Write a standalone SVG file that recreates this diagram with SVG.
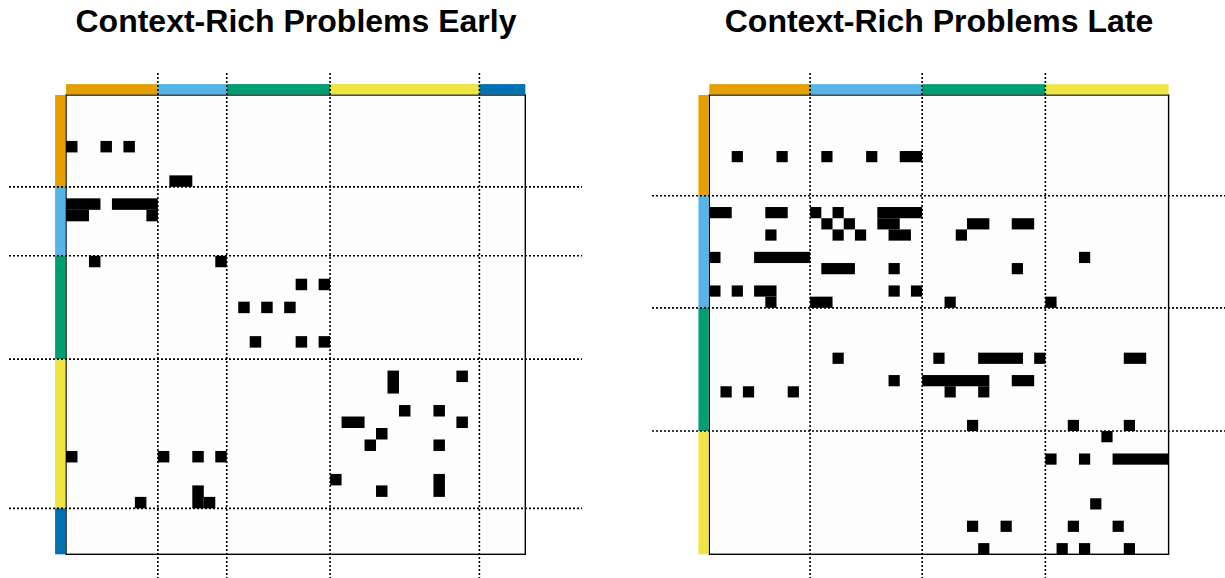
<svg xmlns="http://www.w3.org/2000/svg" width="1225" height="578" viewBox="0 0 1225 578">
<style>
.t{font-family:"Liberation Sans",Arial,sans-serif;font-weight:bold;font-size:32px;fill:#000;text-anchor:middle}
.c{fill:#000}
.d{stroke:#000;stroke-width:1.6;stroke-dasharray:2 2;fill:none}
.b{fill:#fdfdfd;stroke:#000;stroke-width:1.4}
</style>
<rect width="1225" height="578" fill="#fff"/>
<g id="title-early"><text class="t" x="296" y="32">Context-Rich Problems Early</text></g>
<g id="title-late"><text class="t" x="939" y="32">Context-Rich Problems Late</text></g>

<g id="panel-early">
<rect class="b" x="66" y="95" width="459.3" height="459.3"/>
<g id="bars-early" transform="translate(66,95) scale(11.4825)">
<rect x="0" y="-0.95" width="8" height="0.9" fill="#E69F00"/>
<rect x="8" y="-0.95" width="6" height="0.9" fill="#56B4E9"/>
<rect x="14" y="-0.95" width="9" height="0.9" fill="#009E73"/>
<rect x="23" y="-0.95" width="13" height="0.9" fill="#F0E442"/>
<rect x="36" y="-0.95" width="4" height="0.9" fill="#0072B2"/>
<rect y="0" x="-0.95" height="8" width="0.9" fill="#E69F00"/>
<rect y="8" x="-0.95" height="6" width="0.9" fill="#56B4E9"/>
<rect y="14" x="-0.95" height="9" width="0.9" fill="#009E73"/>
<rect y="23" x="-0.95" height="13" width="0.9" fill="#F0E442"/>
<rect y="36" x="-0.95" height="4" width="0.9" fill="#0072B2"/>
</g>
<g id="cells-early" class="c" transform="translate(66,95) scale(11.4825)">
<rect x="0" y="4" width="1" height="1"/><rect x="3" y="4" width="1" height="1"/><rect x="5" y="4" width="1" height="1"/>
<rect x="9" y="7" width="2" height="1"/>
<rect x="0" y="9" width="3" height="1"/><rect x="4" y="9" width="4" height="1"/>
<rect x="0" y="10" width="2" height="1"/><rect x="7" y="10" width="1" height="1"/>
<rect x="2" y="14" width="1" height="1"/><rect x="13" y="14" width="1" height="1"/>
<rect x="20" y="16" width="1" height="1"/><rect x="22" y="16" width="1" height="1"/>
<rect x="15" y="18" width="1" height="1"/><rect x="17" y="18" width="1" height="1"/><rect x="19" y="18" width="1" height="1"/>
<rect x="16" y="21" width="1" height="1"/><rect x="20" y="21" width="1" height="1"/><rect x="22" y="21" width="1" height="1"/>
<rect x="28" y="24" width="1" height="2"/><rect x="34" y="24" width="1" height="1"/>
<rect x="29" y="27" width="1" height="1"/><rect x="32" y="27" width="1" height="1"/>
<rect x="24" y="28" width="2" height="1"/><rect x="34" y="28" width="1" height="1"/>
<rect x="27" y="29" width="1" height="1"/>
<rect x="26" y="30" width="1" height="1"/><rect x="32" y="30" width="1" height="1"/>
<rect x="0" y="31" width="1" height="1"/><rect x="8" y="31" width="1" height="1"/><rect x="11" y="31" width="1" height="1"/><rect x="13" y="31" width="1" height="1"/>
<rect x="23" y="33" width="1" height="1"/><rect x="32" y="33" width="1" height="2"/>
<rect x="11" y="34" width="1" height="2"/><rect x="27" y="34" width="1" height="1"/>
<rect x="6" y="35" width="1" height="1"/><rect x="12" y="35" width="1" height="1"/>
</g>
</g>

<g id="panel-late">
<rect class="b" x="709.3" y="95" width="459.3" height="459.3"/>
<g id="bars-late" transform="translate(709.3,95) scale(11.2024)">
<rect x="0" y="-0.97" width="9" height="0.92" fill="#E69F00"/>
<rect x="9" y="-0.97" width="10" height="0.92" fill="#56B4E9"/>
<rect x="19" y="-0.97" width="11" height="0.92" fill="#009E73"/>
<rect x="30" y="-0.97" width="11" height="0.92" fill="#F0E442"/>
<rect y="0" x="-0.97" height="9" width="0.92" fill="#E69F00"/>
<rect y="9" x="-0.97" height="10" width="0.92" fill="#56B4E9"/>
<rect y="19" x="-0.97" height="11" width="0.92" fill="#009E73"/>
<rect y="30" x="-0.97" height="11" width="0.92" fill="#F0E442"/>
</g>
<g id="cells-late" class="c" transform="translate(709.3,95) scale(11.2024)">
<rect x="2" y="5" width="1" height="1"/><rect x="6" y="5" width="1" height="1"/><rect x="10" y="5" width="1" height="1"/><rect x="14" y="5" width="1" height="1"/><rect x="17" y="5" width="2" height="1"/>
<rect x="0" y="10" width="2" height="1"/><rect x="5" y="10" width="2" height="1"/><rect x="9" y="10" width="1" height="1"/><rect x="11" y="10" width="1" height="1"/><rect x="15" y="10" width="4" height="1"/>
<rect x="10" y="11" width="1" height="1"/><rect x="12" y="11" width="1" height="1"/><rect x="15" y="11" width="2" height="1"/><rect x="23" y="11" width="2" height="1"/><rect x="27" y="11" width="2" height="1"/>
<rect x="5" y="12" width="1" height="1"/><rect x="11" y="12" width="1" height="1"/><rect x="13" y="12" width="1" height="1"/><rect x="16" y="12" width="2" height="1"/><rect x="22" y="12" width="1" height="1"/>
<rect x="0" y="14" width="1" height="1"/><rect x="4" y="14" width="5" height="1"/><rect x="33" y="14" width="1" height="1"/>
<rect x="10" y="15" width="3" height="1"/><rect x="16" y="15" width="1" height="1"/><rect x="27" y="15" width="1" height="1"/>
<rect x="0" y="17" width="1" height="1"/><rect x="2" y="17" width="1" height="1"/><rect x="4" y="17" width="2" height="1"/><rect x="16" y="17" width="1" height="1"/><rect x="18" y="17" width="1" height="1"/>
<rect x="5" y="18" width="1" height="1"/><rect x="9" y="18" width="2" height="1"/><rect x="21" y="18" width="1" height="1"/><rect x="30" y="18" width="1" height="1"/>
<rect x="11" y="23" width="1" height="1"/><rect x="20" y="23" width="1" height="1"/><rect x="24" y="23" width="4" height="1"/><rect x="29" y="23" width="1" height="1"/><rect x="37" y="23" width="2" height="1"/>
<rect x="16" y="25" width="1" height="1"/><rect x="19" y="25" width="6" height="1"/><rect x="27" y="25" width="2" height="1"/>
<rect x="1" y="26" width="1" height="1"/><rect x="3" y="26" width="1" height="1"/><rect x="7" y="26" width="1" height="1"/><rect x="21" y="26" width="1" height="1"/><rect x="24" y="26" width="1" height="1"/>
<rect x="23" y="29" width="1" height="1"/><rect x="32" y="29" width="1" height="1"/><rect x="37" y="29" width="1" height="1"/>
<rect x="35" y="30" width="1" height="1"/>
<rect x="30" y="32" width="1" height="1"/><rect x="33" y="32" width="1" height="1"/><rect x="36" y="32" width="5" height="1"/>
<rect x="34" y="36" width="1" height="1"/>
<rect x="23" y="38" width="1" height="1"/><rect x="26" y="38" width="1" height="1"/><rect x="32" y="38" width="1" height="1"/><rect x="36" y="38" width="1" height="1"/>
<rect x="24" y="40" width="1" height="1"/><rect x="31" y="40" width="1" height="1"/><rect x="33" y="40" width="1" height="1"/><rect x="37" y="40" width="1" height="1"/>
</g>
</g>

<g id="connectors">
<g id="dividers-early" class="d">
<line x1="157.86" y1="73" x2="157.86" y2="578"/>
<line x1="226.76" y1="73" x2="226.76" y2="578"/>
<line x1="330.10" y1="73" x2="330.10" y2="578"/>
<line x1="479.37" y1="73" x2="479.37" y2="578"/>
<line x1="9" y1="186.86" x2="582" y2="186.86"/>
<line x1="9" y1="255.76" x2="582" y2="255.76"/>
<line x1="9" y1="359.10" x2="582" y2="359.10"/>
<line x1="9" y1="508.37" x2="582" y2="508.37"/>
</g>
<g id="dividers-late" class="d">
<line x1="810.12" y1="73" x2="810.12" y2="578"/>
<line x1="922.15" y1="73" x2="922.15" y2="578"/>
<line x1="1045.37" y1="73" x2="1045.37" y2="578"/>
<line x1="652" y1="195.82" x2="1225" y2="195.82"/>
<line x1="652" y1="307.85" x2="1225" y2="307.85"/>
<line x1="652" y1="431.07" x2="1225" y2="431.07"/>
</g>
</g>
</svg>
